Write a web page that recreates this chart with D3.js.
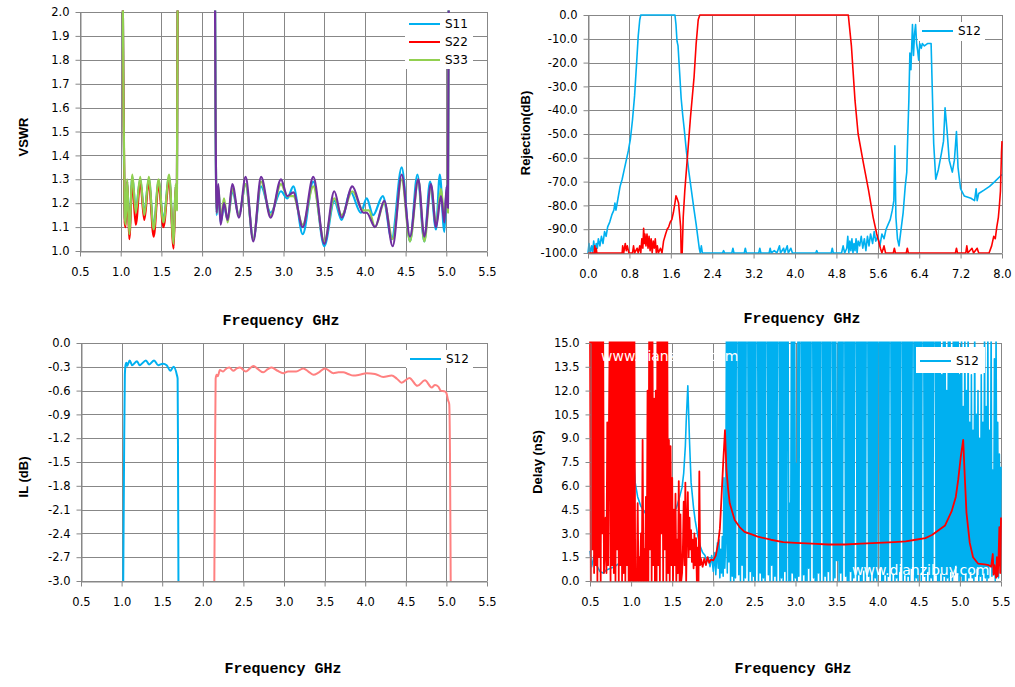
<!DOCTYPE html>
<meta charset="utf-8">
<head>
    <title>Diplexer response</title>
    <style>
        body { margin: 0; background: #fff; }
        text { font-family: "DejaVu Sans", Verdana, sans-serif; }
    </style>
</head>

<script src="https://d3js.org/d3.v7.min.js"></script>

<div id="dataVis"></div>

<script>

    // ---- tick labels ----
    var freqTicks = [0.5, 1.0, 1.5, 2.0, 2.5, 3.0, 3.5, 4.0, 4.5, 5.0, 5.5];
    var rejFreqTicks = [0.0, 0.8, 1.6, 2.4, 3.2, 4.0, 4.8, 5.6, 6.4, 7.2, 8.0];
    var vswrTicks = [1.0, 1.1, 1.2, 1.3, 1.4, 1.5, 1.6, 1.7, 1.8, 1.9, 2.0];
    var rejTicks = [-100, -90, -80, -70, -60, -50, -40, -30, -20, -10, 0];
    var ilTicks = [-3.0, -2.7, -2.4, -2.1, -1.8, -1.5, -1.2, -0.9, -0.6, -0.3, 0.0];
    var delayTicks = [0, 1.5, 3.0, 4.5, 6.0, 7.5, 9.0, 10.5, 12.0, 13.5, 15.0];

    // ---- VSWR (GHz, VSWR) ----
    var vswrS11Low = [[1.025, 2.1], [1.035, 1.6], [1.05, 1.14], [1.06, 1.12], [1.08, 1.29], [1.105, 1.08], [1.143, 1.31], [1.185, 1.17], [1.24, 1.30], [1.29, 1.16], [1.345, 1.30], [1.405, 1.10], [1.465, 1.29], [1.525, 1.13], [1.595, 1.31], [1.65, 1.04], [1.675, 1.27], [1.69, 1.18], [1.70, 2.1]];
    var vswrS22Low = [[1.025, 2.1], [1.035, 1.6], [1.05, 1.12], [1.06, 1.10], [1.08, 1.29], [1.105, 1.05], [1.143, 1.29], [1.185, 1.11], [1.24, 1.29], [1.29, 1.13], [1.345, 1.29], [1.405, 1.06], [1.465, 1.28], [1.525, 1.10], [1.595, 1.30], [1.65, 1.01], [1.675, 1.27], [1.69, 1.20], [1.70, 2.1]];
    var vswrS33Low = [[1.025, 2.1], [1.035, 1.6], [1.05, 1.15], [1.06, 1.11], [1.08, 1.30], [1.105, 1.07], [1.143, 1.32], [1.185, 1.16], [1.24, 1.31], [1.29, 1.15], [1.345, 1.31], [1.405, 1.09], [1.465, 1.30], [1.525, 1.12], [1.595, 1.32], [1.65, 1.03], [1.675, 1.28], [1.69, 1.17], [1.70, 2.1]];
    var vswrS11High = [[2.158, 2.1], [2.165, 1.6], [2.179, 1.15], [2.199, 1.26], [2.228, 1.12], [2.269, 1.19], [2.314, 1.13], [2.371, 1.25], [2.453, 1.15], [2.535, 1.28], [2.629, 1.05], [2.724, 1.27], [2.842, 1.16], [2.969, 1.25], [3.047, 1.22], [3.121, 1.27], [3.236, 1.07], [3.366, 1.29], [3.501, 1.02], [3.624, 1.21], [3.715, 1.13], [3.82, 1.25], [3.95, 1.16], [4.022, 1.22], [4.10, 1.15], [4.22, 1.23], [4.33, 1.05], [4.452, 1.35], [4.554, 1.04], [4.645, 1.32], [4.73, 1.04], [4.80, 1.29], [4.874, 1.09], [4.92, 1.32], [4.976, 1.08], [5.005, 1.27], [5.02, 1.18], [5.03, 2.1]];
    var vswrS33High = [[2.158, 2.1], [2.165, 1.6], [2.179, 1.16], [2.199, 1.27], [2.228, 1.13], [2.269, 1.22], [2.314, 1.12], [2.371, 1.26], [2.453, 1.15], [2.535, 1.28], [2.629, 1.05], [2.724, 1.29], [2.842, 1.15], [2.969, 1.28], [3.047, 1.23], [3.121, 1.23], [3.236, 1.11], [3.366, 1.27], [3.501, 1.04], [3.624, 1.22], [3.715, 1.15], [3.845, 1.25], [3.981, 1.17], [4.05, 1.17], [4.124, 1.10], [4.238, 1.20], [4.341, 1.05], [4.452, 1.30], [4.554, 1.04], [4.656, 1.30], [4.73, 1.04], [4.812, 1.27], [4.874, 1.11], [4.935, 1.26], [4.976, 1.14], [5.005, 1.25], [5.02, 1.16], [5.03, 2.1]];
    var vswrS44High = [[2.158, 2.1], [2.165, 1.6], [2.179, 1.16], [2.199, 1.28], [2.228, 1.11], [2.269, 1.20], [2.314, 1.13], [2.371, 1.28], [2.453, 1.14], [2.535, 1.31], [2.629, 1.04], [2.724, 1.31], [2.842, 1.14], [2.969, 1.30], [3.047, 1.23], [3.121, 1.245], [3.236, 1.10], [3.366, 1.31], [3.501, 1.03], [3.624, 1.25], [3.715, 1.14], [3.845, 1.27], [3.981, 1.16], [4.022, 1.16], [4.124, 1.10], [4.238, 1.21], [4.341, 1.02], [4.452, 1.32], [4.554, 1.06], [4.656, 1.30], [4.73, 1.06], [4.812, 1.28], [4.874, 1.10], [4.935, 1.23], [4.976, 1.12], [5.005, 1.27], [5.02, 1.18], [5.03, 2.1]];

    // ---- Rejection (GHz, dB) ----
    var rejS12 = [[0.00, -100], [0.02, -96], [0.04, -100], [0.07, -97], [0.09, -100], [0.11, -95], [0.13, -99], [0.16, -96], [0.18, -98], [0.2, -94], [0.23, -97], [0.26, -93], [0.29, -96], [0.32, -91], [0.35, -93], [0.38, -89], [0.42, -87], [0.46, -84], [0.5, -82], [0.52, -79], [0.54, -82], [0.58, -77], [0.62, -72], [0.66, -69], [0.7, -65], [0.74, -61], [0.78, -57], [0.82, -52], [0.86, -44], [0.9, -34], [0.94, -20], [0.97, -9], [1.0, -2], [1.02, 0], [1.68, 0], [1.7, -4], [1.72, -11], [1.74, -13], [1.77, -24], [1.8, -35], [1.83, -42], [1.86, -48], [1.9, -57], [1.95, -66], [2.0, -74], [2.05, -82], [2.09, -88], [2.12, -93], [2.15, -98], [2.17, -100], [2.19, -97], [2.21, -100], [2.6, -100], [2.62, -99], [2.64, -100], [2.78, -100], [2.8, -98], [2.82, -100], [3.02, -100], [3.04, -98], [3.06, -100], [3.3, -100], [3.32, -98], [3.34, -100], [3.5, -100], [3.52, -98], [3.54, -100], [3.6, -99], [3.65, -100], [3.7, -97], [3.72, -100], [3.78, -98], [3.8, -100], [3.85, -97], [3.87, -100], [3.92, -98], [3.95, -100], [4.4, -100], [4.42, -99], [4.44, -100], [4.7, -100], [4.72, -98], [4.74, -100], [4.9, -100], [4.93, -97], [4.96, -100], [5.0, -98], [5.02, -93], [5.04, -100], [5.06, -95], [5.08, -99], [5.1, -94], [5.12, -100], [5.14, -96], [5.16, -99], [5.18, -94], [5.2, -100], [5.22, -95], [5.25, -97], [5.28, -93], [5.31, -98], [5.34, -94], [5.37, -99], [5.4, -93], [5.43, -97], [5.46, -92], [5.5, -96], [5.53, -91], [5.56, -95], [5.6, -93], [5.64, -97], [5.68, -92], [5.72, -94], [5.76, -90], [5.8, -88], [5.84, -86], [5.88, -82], [5.91, -78], [5.93, -55], [5.95, -85], [5.98, -94], [6.01, -97], [6.05, -90], [6.09, -83], [6.13, -72], [6.16, -66], [6.18, -50], [6.2, -36], [6.22, -16], [6.24, -23], [6.27, -4], [6.29, -17], [6.31, -8], [6.33, -4], [6.35, -12], [6.37, -15], [6.39, -19], [6.41, -12], [6.44, -14], [6.46, -12], [6.5, -13], [6.56, -12], [6.63, -12], [6.65, -29], [6.68, -54], [6.72, -69], [6.77, -65], [6.83, -58], [6.87, -53], [6.9, -39], [6.94, -49], [6.98, -61], [7.04, -66], [7.08, -61], [7.12, -49], [7.15, -64], [7.2, -73], [7.27, -76], [7.4, -77], [7.47, -78], [7.5, -73], [7.52, -78], [7.55, -75], [7.66, -73.5], [7.76, -72], [7.86, -70], [8.0, -67]];
    var rejHigh = [[0.0, -100], [0.12, -100], [0.13, -97], [0.14, -100], [0.16, -98], [0.17, -100], [0.66, -100], [0.67, -97], [0.69, -100], [0.72, -96], [0.74, -99], [0.76, -97], [0.79, -100], [0.86, -100], [0.88, -97], [0.9, -100], [0.95, -98], [0.97, -100], [1.0, -97], [1.02, -100], [1.04, -94], [1.06, -98], [1.075, -89.6], [1.09, -96], [1.1, -92], [1.12, -97], [1.14, -92], [1.16, -98], [1.18, -93], [1.2, -99], [1.22, -94], [1.24, -100], [1.26, -95], [1.28, -98], [1.3, -94], [1.32, -100], [1.34, -97], [1.36, -100], [1.4, -98], [1.43, -100], [1.46, -95], [1.5, -92], [1.53, -90], [1.56, -89], [1.59, -87], [1.62, -86], [1.65, -83], [1.68, -79], [1.7, -76], [1.72, -77], [1.75, -79], [1.77, -84], [1.79, -89], [1.8, -100], [1.82, -100], [1.84, -85], [1.87, -74], [1.92, -60], [1.98, -43], [2.05, -26], [2.09, -12], [2.13, -2], [2.16, 0], [5.03, 0], [5.09, -13], [5.16, -36], [5.22, -50], [5.32, -62], [5.42, -73.5], [5.51, -85], [5.58, -92], [5.61, -94.5], [5.65, -98], [5.68, -100], [5.72, -97], [5.75, -100], [5.9, -100], [5.92, -98], [5.94, -100], [6.15, -100], [6.17, -98], [6.19, -100], [7.1, -100], [7.12, -98], [7.14, -100], [7.3, -100], [7.32, -97], [7.34, -100], [7.42, -98], [7.45, -100], [7.52, -98], [7.55, -100], [7.75, -100], [7.8, -97], [7.84, -93], [7.87, -94], [7.9, -89], [7.93, -85], [7.95, -80], [7.97, -74], [7.98, -66], [7.99, -58], [8.0, -53]];

    // ---- Insertion loss (GHz, dB) ----
    var ilLow = [[1.02, -3.0], [1.03, -1.5], [1.04, -0.4], [1.05, -0.27], [1.06, -0.25], [1.068, -0.29], [1.10, -0.22], [1.13, -0.28], [1.19, -0.23], [1.22, -0.28], [1.30, -0.22], [1.34, -0.27], [1.40, -0.22], [1.45, -0.28], [1.51, -0.26], [1.555, -0.28], [1.60, -0.35], [1.64, -0.30], [1.68, -0.40], [1.69, -0.45], [1.695, -1.5], [1.70, -3.0]];
    var ilHigh = [[2.142, -3.0], [2.15, -1.6], [2.158, -0.45], [2.17, -0.40], [2.185, -0.42], [2.21, -0.34], [2.25, -0.36], [2.28, -0.33], [2.327, -0.31], [2.375, -0.35], [2.42, -0.32], [2.458, -0.31], [2.53, -0.36], [2.58, -0.32], [2.622, -0.29], [2.68, -0.33], [2.745, -0.37], [2.8, -0.33], [2.848, -0.31], [2.92, -0.35], [2.99, -0.38], [3.05, -0.36], [3.15, -0.36], [3.238, -0.32], [3.3, -0.36], [3.36, -0.40], [3.43, -0.37], [3.505, -0.32], [3.607, -0.38], [3.67, -0.37], [3.73, -0.37], [3.79, -0.39], [3.853, -0.41], [3.93, -0.40], [4.018, -0.38], [4.12, -0.39], [4.223, -0.43], [4.326, -0.41], [4.39, -0.45], [4.449, -0.50], [4.544, -0.44], [4.643, -0.54], [4.736, -0.47], [4.818, -0.56], [4.86, -0.53], [4.9, -0.55], [4.93, -0.60], [4.98, -0.61], [5.0, -0.63], [5.02, -0.72], [5.035, -0.77], [5.045, -1.5], [5.053, -3.0]];

    // ---- Group delay (GHz, nS) ----
    var delayBlueLow = [[0.5, 1.9], [0.52, 0.9], [0.55, 1.6], [0.58, 1.0], [0.62, 0.6], [0.66, 0.5], [0.7, 0.7], [0.75, 0.8], [0.8, 0.9], [0.85, 1.1], [0.9, 1.4], [0.95, 1.7], [1.0, 2.2], [1.02, 10.0], [1.035, 7.5], [1.05, 6.2], [1.08, 5.3], [1.12, 4.7], [1.17, 4.3], [1.25, 3.95], [1.37, 3.8], [1.45, 3.95], [1.5, 4.2], [1.55, 4.6], [1.58, 5.1], [1.62, 5.9], [1.64, 6.8], [1.66, 8.5], [1.67, 10.0], [1.69, 12.3], [1.71, 8.9], [1.73, 6.2], [1.76, 4.6], [1.78, 3.8], [1.81, 2.9], [1.84, 2.2], [1.87, 1.8], [1.9, 1.6], [1.92, 1.2], [1.94, 1.5], [1.96, 0.9], [1.98, 1.6], [2.0, 0.6], [2.02, 1.8], [2.03, 0.4], [2.05, 2.4], [2.06, 0.8], [2.07, 2.6], [2.08, 0.2], [2.09, 2.0], [2.1, 0.5], [2.11, 2.8], [2.12, 0.3], [2.13, 6.5], [2.14, 0.8]];
    // sampled every 0.01 GHz from 2.15 GHz
    var delayBlueNoiseStart = 2.15, delayBlueNoiseStep = 0.01;
    var delayBlueNoise = [
        2.5, 16, 0.5, 16, 1.2, 16, 0, 16, 0.3, 16,
        0, 16, 0.2, 16, 16, 16, 0.4, 16, 0, 16,
        1, 16, 0, 16, 0.2, 16, 16, 16, 0, 16,
        0.6, 16, 0, 16, 0.3, 16, 0, 16, 16, 16,
        0, 16, 0.5, 16, 0, 16, 0.2, 16, 0, 16,
        16, 16, 0.4, 16, 0, 16, 1, 16, 0, 16,
        0.3, 16, 0, 16, 16, 16, 0, 16, 0.2, 16,
        0, 16, 0.6, 16, 0, 16, 16, 0, 4.9, 0,
        16, 0.5, 16, 0, 16, 0.2, 7.4, 0, 16, 0.3,
        16, 16, 16, 0, 16, 0.4, 16, 0, 16, 0,
        16, 0.8, 16, 0, 16, 16, 16, 0.2, 16, 0,
        16, 0, 16, 0.5, 16, 0, 16, 16, 16, 0,
        16, 0.3, 16, 0, 16, 0.6, 16, 0, 16, 16,
        16, 0, 16, 0.2, 16, 1.3, 1.3, 16, 0, 16,
        0.5, 16, 0, 16, 16, 16, 0.3, 16, 0, 16,
        0, 16, 0.6, 16, 0, 16, 0.2, 16, 16, 16,
        0, 16, 0.4, 16, 0, 16, 0, 16, 0.7, 16,
        0, 16, 16, 16, 0.3, 16, 0, 16, 0.5, 16,
        0, 16, 0.2, 16, 0, 16, 16, 16, 0.8, 16,
        0, 16, 0, 16, 0.4, 16, 0, 16, 0.3, 16,
        16, 16, 0, 16, 0.5, 16, 0, 16, 0.2, 16,
        0, 16, 0.6, 16, 16, 16, 0, 16, 0.4, 16,
        0, 16, 0.3, 16, 0, 16, 0.8, 16, 16, 16,
        0, 16, 0.2, 16, 0, 16, 0.5, 16, 0, 16,
        16, 16, 0.3, 16, 0, 16, 0.6, 16, 0, 16,
        0.2, 16, 0, 16, 16, 16, 0.4, 16, 0, 16,
        0, 16, 0.5, 13, 0, 16, 0.3, 16, 0, 12,
        0.2, 16, 0, 16, 0.6, 14, 0, 16, 0.4, 16,
        1, 16, 0.5, 16, 0, 13, 0.3, 16, 0, 11,
        0, 16, 0.5, 12, 0, 16, 0.2, 10, 0.6, 13,
        0.2, 9.5, 0, 16, 0.3, 10.5, 0.8, 12, 0, 9,
        0.3, 13, 0, 10, 0.5, 16, 0.2, 11, 0, 16,
        0.2, 9.5, 1, 16, 0.3, 7, 0.5, 14, 0, 16,
        0.4, 10, 0.2, 8, 1, 7.2];
    // sampled every 0.01 GHz from 0.5 GHz
    var delayRedNoiseStart = 0.5, delayRedNoiseStep = 0.01;
    var delayRedNoise = [
        16, 0, 16, 2, 16, 0.5, 16, 1, 16, 0,
        16, 1.5, 16, 0, 16, 3, 16, 0.5, 2, 4,
        0.5, 10, 1, 9.5, 16, 0, 16, 1, 16, 0.5,
        16, 0, 16, 2, 16, 0, 16, 1, 16, 0,
        16, 0.5, 16, 0, 16, 1, 16, 0, 16, 0,
        16, 0, 16, 0, 16, 0, 0.2, 0, 4.9, 0,
        1.5, 0, 3, 0, 8.9, 0, 2, 0, 5.3, 0,
        12, 0, 16, 2, 16, 0, 16, 1, 11.5, 0,
        12, 0, 16, 1, 16, 0, 16, 3, 16, 0,
        16, 2, 16, 0, 16, 0.5, 8.9, 0, 8.5, 1,
        6.5, 0, 4.5, 1, 5.5, 0, 2.6, 0.5, 6.3, 0,
        4.2, 0, 0.5, 2, 5.0, 1, 6.2, 0, 3.5, 5.6,
        1.5, 4.0, 2.0, 3.2, 1.2, 2.6, 0.8, 3.0, 1.0, 2.7,
        0, 2.1, 0, 6.9, 1.0];
    var delayRedSmooth = [[1.85, 1.4], [1.87, 0.9], [1.89, 1.4], [1.91, 1.0], [1.93, 1.5], [1.95, 1.15], [1.97, 1.35], [2.0, 1.3], [2.03, 1.6], [2.06, 2.4], [2.08, 3.3], [2.1, 5.3], [2.12, 7.4], [2.142, 9.5], [2.16, 7.0], [2.18, 5.8], [2.2, 4.9], [2.26, 3.85], [2.32, 3.4], [2.38, 3.1], [2.46, 2.95], [2.54, 2.8], [2.7, 2.6], [2.85, 2.45], [3.0, 2.4], [3.2, 2.35], [3.4, 2.3], [3.6, 2.3], [3.8, 2.35], [4.0, 2.4], [4.2, 2.45], [4.34, 2.5], [4.46, 2.6], [4.58, 2.7], [4.66, 2.9], [4.74, 3.2], [4.82, 3.5], [4.9, 4.4], [4.95, 5.3], [4.98, 6.4], [5.01, 7.8], [5.04, 8.9], [5.06, 6.5], [5.08, 4.3], [5.12, 2.4], [5.16, 1.5], [5.22, 1.1], [5.3, 1.05], [5.35, 1.0], [5.38, 0.9], [5.4, 1.7], [5.41, 0.4], [5.42, 1.0], [5.44, 0.2], [5.45, 1.5], [5.46, 0.3], [5.47, 1.4], [5.48, 3.4], [5.49, 0.5], [5.5, 4.0]];

    var blue = "#00b0f0", red = "#ff0000", green = "#92d050", purple = "#7030a0", pink = "#ff8080";
    var gridColor = "#878787";

    var svg = d3.select("#dataVis")
        .append("svg")
        .attr("width", 1015)
        .attr("height", 687)
        .style("display", "block");

    svg.append("rect").attr("width", 1015).attr("height", 687).attr("fill", "#fff");

    function makePanel(name, box, xDomain, xTicks, yDomain, yTicks) {
        var x = d3.scaleLinear().domain(xDomain).range([box.l, box.r]);
        var y = d3.scaleLinear().domain(yDomain).range([box.b, box.t]);
        var g = svg.append("g");

        // grid
        g.append("g").selectAll("line").data(yTicks).enter().append("line")
            .attr("x1", box.l).attr("x2", box.r)
            .attr("y1", function (d) { return Math.round(y(d)) + 0.5; })
            .attr("y2", function (d) { return Math.round(y(d)) + 0.5; })
            .attr("stroke", gridColor).attr("stroke-width", 1);
        g.append("g").selectAll("line").data(xTicks).enter().append("line")
            .attr("y1", box.t).attr("y2", box.b)
            .attr("x1", function (d) { return Math.round(x(d)) + 0.5; })
            .attr("x2", function (d) { return Math.round(x(d)) + 0.5; })
            .attr("stroke", gridColor).attr("stroke-width", 1);

        svg.append("clipPath").attr("id", "clip-" + name)
            .append("rect")
            .attr("x", box.l - 1.5).attr("y", box.t - 1.5)
            .attr("width", box.r - box.l + 3).attr("height", box.b - box.t + 3);

        var plot = g.append("g").attr("clip-path", "url(#clip-" + name + ")");

        // axes
        var fmt = function (d) { return d.toFixed(1); };
        var xa = g.append("g").attr("transform", "translate(0," + (Math.round(box.b) + 0.5) + ")")
            .call(d3.axisBottom(x).tickValues(xTicks).tickFormat(fmt).tickSize(5).tickSizeOuter(0).tickPadding(11));
        var ya = g.append("g").attr("transform", "translate(" + (Math.round(box.l) + 0.5) + ",0)")
            .call(d3.axisLeft(y).tickValues(yTicks).tickFormat(fmt).tickSize(5).tickSizeOuter(0).tickPadding(6));
        [xa, ya].forEach(function (a) {
            a.select(".domain").attr("stroke", gridColor);
            a.selectAll(".tick line").attr("stroke", gridColor);
            a.selectAll("text").attr("fill", "#000")
                .style("font-family", "'DejaVu Sans', Verdana, sans-serif")
                .style("font-size", "11.5px");
        });

        return { x: x, y: y, plot: plot };
    }

    function drawLine(p, data, color, width, curve) {
        var line = d3.line()
            .x(function (d) { return p.x(d[0]); })
            .y(function (d) { return p.y(d[1]); })
            .curve(curve || d3.curveLinear);
        p.plot.append("path")
            .datum(data)
            .attr("fill", "none")
            .attr("stroke", color)
            .attr("stroke-width", width)
            .attr("stroke-linejoin", "round")
            .attr("d", line);
    }

    function sampled(start, step, values) {
        return values.map(function (v, i) { return [start + i * step, v]; });
    }

    function legend(box, items) {
        var g = svg.append("g");
        g.append("rect").attr("x", box.x).attr("y", box.y).attr("width", box.w).attr("height", box.h).attr("fill", "#fff");
        items.forEach(function (it, i) {
            var yy = box.first + i * 18;
            g.append("line").attr("x1", box.x + 4).attr("x2", box.x + 35)
                .attr("y1", yy).attr("y2", yy).attr("stroke", it.color).attr("stroke-width", 2);
            g.append("text").attr("x", box.x + 40).attr("y", yy).attr("dy", "0.36em")
                .style("font-size", "12px").attr("fill", "#000").text(it.name);
        });
    }

    function xTitle(cx, by) {
        svg.append("text").attr("x", cx).attr("y", by).attr("text-anchor", "middle")
            .style("font-family", "'Liberation Mono', 'Courier New', monospace")
            .style("font-weight", "bold").style("font-size", "15px")
            .text("Frequency GHz");
    }

    function yTitle(cx, cy, label) {
        svg.append("text").attr("transform", "translate(" + cx + "," + cy + ") rotate(-90)")
            .attr("text-anchor", "middle").attr("dy", "0.35em")
            .style("font-family", "'Liberation Sans', Arial, sans-serif")
            .style("font-weight", "bold").style("font-size", "13px")
            .text(label);
    }

    // ---- VSWR ----
    var p1 = makePanel("vswr", { l: 80, r: 487, t: 12, b: 251 }, [0.5, 5.5], freqTicks, [1.0, 2.0], vswrTicks);
    drawLine(p1, vswrS11Low, blue, 2.2, d3.curveMonotoneX);
    drawLine(p1, vswrS11High, blue, 2.2, d3.curveMonotoneX);
    drawLine(p1, vswrS22Low, red, 2.2, d3.curveMonotoneX);
    drawLine(p1, vswrS33Low, green, 2.2, d3.curveMonotoneX);
    drawLine(p1, vswrS33High, green, 2.2, d3.curveMonotoneX);
    drawLine(p1, vswrS44High, purple, 2.2, d3.curveMonotoneX);
    legend({ x: 405, y: 13, w: 68, h: 56, first: 24 }, [
        { name: "S11", color: blue }, { name: "S22", color: red }, { name: "S33", color: green }]);
    xTitle(281, 325);
    yTitle(23, 137, "VSWR");

    // ---- Rejection ----
    var p2 = makePanel("rej", { l: 588, r: 1002, t: 15, b: 253 }, [0, 8], rejFreqTicks, [-100, 0], rejTicks);
    drawLine(p2, rejS12, blue, 1.6);
    drawLine(p2, rejHigh, red, 1.6);
    legend({ x: 918, y: 22, w: 67, h: 19, first: 31 }, [{ name: "S12", color: blue }]);
    xTitle(802, 323);
    yTitle(525, 133, "Rejection(dB)");

    // ---- Insertion loss ----
    var p3 = makePanel("il", { l: 81, r: 487, t: 343, b: 581 }, [0.5, 5.5], freqTicks, [-3.0, 0.0], ilTicks);
    drawLine(p3, ilLow, blue, 2, d3.curveMonotoneX);
    drawLine(p3, ilHigh, pink, 2, d3.curveMonotoneX);
    legend({ x: 406, y: 350, w: 67, h: 18, first: 359 }, [{ name: "S12", color: blue }]);
    xTitle(283, 673);
    yTitle(23, 477, "IL (dB)");

    // ---- Delay ----
    var p4 = makePanel("delay", { l: 590, r: 1001, t: 343, b: 581 }, [0.5, 5.5], freqTicks, [0, 15], delayTicks);
    drawLine(p4, delayBlueLow.concat(sampled(delayBlueNoiseStart, delayBlueNoiseStep, delayBlueNoise)), blue, 1.6);
    drawLine(p4, sampled(delayRedNoiseStart, delayRedNoiseStep, delayRedNoise).concat(delayRedSmooth), red, 1.8);
    // watermarks
    [[601, 361], [852, 575]].forEach(function (pos) {
        svg.append("text").attr("x", pos[0]).attr("y", pos[1])
            .style("font-size", "14px").attr("fill", "#fff")
            .text("www.dianzibuy.com");
    });
    legend({ x: 916, y: 347, w: 69, h: 26, first: 361 }, [{ name: "S12", color: blue }]);
    xTitle(793, 673);
    yTitle(537, 462, "Delay (nS)");

</script>
